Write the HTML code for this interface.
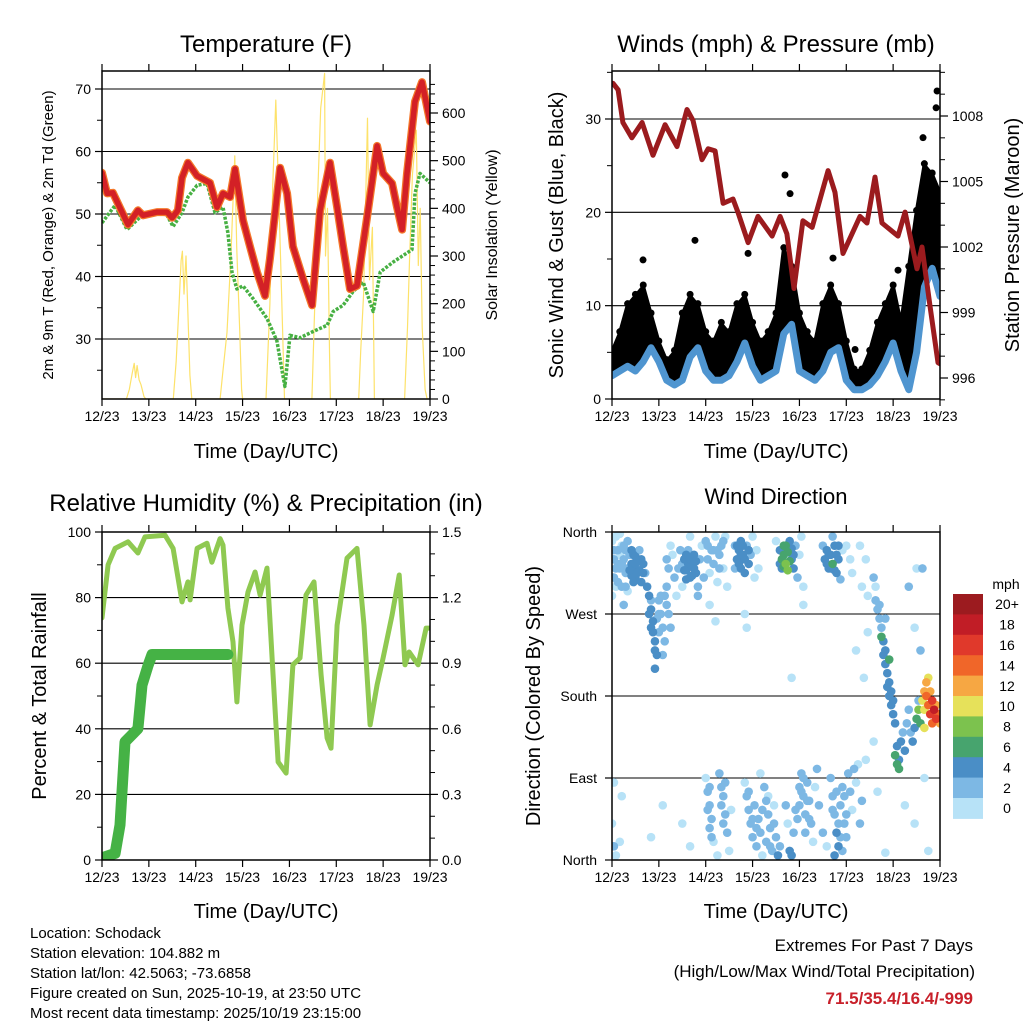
<!DOCTYPE html>
<html><head><meta charset="utf-8">
<style>
html,body{margin:0;padding:0;background:#fff;}
svg{display:block;font-family:"Liberation Sans",Arial,sans-serif;}
</style></head>
<body>
<svg id="root" width="1024" height="1024" viewBox="0 0 1024 1024" xmlns="http://www.w3.org/2000/svg">
<rect width="1024" height="1024" fill="#fff"/>
<text x="266" y="52" font-size="24" text-anchor="middle">Temperature (F)</text>
<text x="776" y="52" font-size="24" text-anchor="middle">Winds (mph) &amp; Pressure (mb)</text>
<text x="266" y="511" font-size="24" text-anchor="middle">Relative Humidity (%) &amp; Precipitation (in)</text>
<text x="776" y="504" font-size="22" text-anchor="middle">Wind Direction</text>
<text x="266" y="458" font-size="20" text-anchor="middle">Time (Day/UTC)</text>
<text x="776" y="458" font-size="20" text-anchor="middle">Time (Day/UTC)</text>
<text x="266" y="918" font-size="20" text-anchor="middle">Time (Day/UTC)</text>
<text x="776" y="918" font-size="20" text-anchor="middle">Time (Day/UTC)</text>
<text transform="translate(53,235) rotate(-90)" font-size="15" text-anchor="middle">2m &amp; 9m T (Red, Orange) &amp; 2m Td (Green)</text>
<text transform="translate(497,235) rotate(-90)" font-size="16" text-anchor="middle">Solar Insolation (Yellow)</text>
<text transform="translate(563,235) rotate(-90)" font-size="20" text-anchor="middle">Sonic Wind &amp; Gust (Blue, Black)</text>
<text transform="translate(1019,235) rotate(-90)" font-size="20" text-anchor="middle">Station Pressure (Maroon)</text>
<text transform="translate(46,696) rotate(-90)" font-size="20" text-anchor="middle">Percent &amp; Total Rainfall</text>
<text transform="translate(540,696) rotate(-90)" font-size="20" text-anchor="middle">Direction (Colored By Speed)</text>
<g font-size="15">
<text x="30" y="938">Location: Schodack</text>
<text x="30" y="958">Station elevation: 104.882 m</text>
<text x="30" y="978">Station lat/lon: 42.5063; -73.6858</text>
<text x="30" y="998">Figure created on Sun, 2025-10-19, at 23:50 UTC</text>
<text x="30" y="1018">Most recent data timestamp: 2025/10/19 23:15:00</text>
</g>
<text x="973" y="951" font-size="17" text-anchor="end">Extremes For Past 7 Days</text>
<text x="975" y="977" font-size="17" text-anchor="end">(High/Low/Max Wind/Total Precipitation)</text>
<text x="973" y="1004" font-size="17" font-weight="bold" fill="#c8202a" text-anchor="end">71.5/35.4/16.4/-999</text>
<g id="layer"></g>
</svg>
<script>
const dayLabels = ["12/23","13/23","14/23","15/23","16/23","17/23","18/23","19/23"];
const tempHours = [0,2.6,5.6,9.2,13.3,18.4,21,28.2,33.3,35.9,38.9,41,44,48.7,55.3,58.9,62,65.6,68.1,72.2,75.8,79.4,83.5,86,91.2,94.8,97.8,103,107.6,111.7,116.8,120.4,123.5,127,130.6,135.8,140.9,144,148.6,151.1,153.7,156.2,160.3,163.9,168];
const tempF = [56.6,53.3,53.4,51,48.3,50.6,49.8,50.3,50.3,49.4,50.6,55.8,58.2,56.1,55,51.1,53.3,52.7,57.2,49,44.8,40.7,36.9,42.8,57.4,53.3,44.8,39.6,35.4,50.6,58.2,51.1,44.8,38,38.5,49.5,60.9,56.5,54.9,51.1,47.5,56.5,68,71.1,64.8];
const dewHours = [0,6.7,12.8,19.5,28.2,33.3,36.4,41,44,48.7,53.8,57.9,62,64.5,66.6,69.1,72.2,77.3,84.5,89.6,92.2,93.7,96.3,101.4,108.1,115.3,118.4,123.5,128.6,133.8,138.9,142.5,149.1,156.3,158.8,160.3,162.9,168];
const dewF = [48.6,51.4,47.5,49.5,50.3,49.8,48,50.2,52.7,54.6,54.9,50.2,51.1,47,40.7,38,38.5,36.5,33.3,29.7,25,22.4,30.6,30.2,31.2,32.2,34.4,35.4,37.6,39.1,34.4,40.7,42.3,43.8,44.3,53.3,56.5,55];
const solarHours = [0,12.5,14,15.5,16.5,17.2,18,19,20,21.5,22.5,36.5,38,39.5,40.5,41.2,42,43,44,45,46,60.5,62,64,66,68,69,70.5,71.5,72,84,86,87.5,89,90.5,92,93.5,107.5,109,110.5,112,114,114.5,115.5,116.5,117,131.5,132.5,134,136,137,138.5,139.5,155,156.5,157.5,159,161,162,163,164,165.5,166.5,168];
const solarW = [0,0,20,55,75,45,70,40,30,5,0,0,80,200,290,310,220,300,180,50,0,0,60,140,300,510,320,150,20,0,0,200,450,627,430,220,0,0,200,430,610,683,300,400,100,0,0,100,220,589,250,360,0,0,150,290,470,564,280,400,150,20,0,0];
const windHours = [0,4,8,12,16,20,24,28,32,36,40,44,48,52,56,60,64,68,72,76,80,84,88,92,96,100,104,108,112,116,120,124,128,132,136,140,144,148,152,156,160,164,168];
const windMean = [2.5,3,3.5,3,4,5.5,4,2,1.5,2,4.5,5.5,3,2,2,2.5,4,6,3.5,2,2.5,3,7,8,3,2.5,2,3,5,5.5,2,1,1,1.5,2.5,4,6,3,1,5,12,14,11];
const windGust = [5,7,10,11,12,9,6,4,5,9,11,10,7,6,8,7,10,11,8,6,7,9,16,14,9,7,6,10,12,10,6,3,3,5,8,10,12,8,14,20,25,24,22];
const gustOutHours = [42.5,88.6,91.2,166.5,166,159.3,69.7,15.9,113.2,124.5,146.5];
const gustOutMph = [17,24,22,33,31.2,28,15.6,14.9,15.1,5.3,13.8];
const pressHours = [0.5,3.1,5.6,10.2,15.4,21,27.2,33.3,38.4,41.5,46.1,49.2,52.8,56.9,62,64.5,69.7,74.8,82,86.1,89.6,93.2,97.8,102.5,110.7,114.2,118.3,127,130.6,134.7,138.3,146.5,150.1,156.2,158.8,162.9,167,169];
const pressMb = [1009.5,1009.2,1007.7,1007,1007.7,1006.2,1007.6,1006.6,1008.3,1007.8,1006,1006.5,1006.4,1004,1004.2,1003.6,1002.2,1003.4,1002.5,1003.4,1002.6,1000.1,1003.2,1002.9,1005.5,1004.5,1001.7,1003.4,1003.1,1005.2,1003.1,1002.5,1003.6,1001,1002,999.3,996.7,996.6];
const rhHours = [0,3.1,6.7,13.3,18.4,22,32.3,36.4,41,44,45.1,48.7,53.8,56.3,60.5,62,64.5,67.1,69.1,71.7,74.8,78.4,81,84.5,87.1,90.2,94.3,97.8,101.4,104.5,108.6,112.2,115.3,117.3,120.4,125.5,130.6,134.2,137.3,140.9,144,148.6,152.2,155.2,157.3,161.9,166,167.6];
const rhPct = [73.8,90,95,97,93.6,98.5,99,95,78.7,84.8,79.3,95,96.6,90.8,98,96,76.8,66.5,48.2,71.6,81.7,87.8,80.8,89,61.6,29.9,26.5,59.5,61.6,80.8,84.8,56.4,37.2,34.1,71.6,92,95,71.6,41.2,53.4,61.6,74.7,86.9,59.5,63.4,59.5,70.7,70.7];
const rainHours = [0,6.7,9.2,11.8,18.4,20,20.5,23.6,25.6,64.5];
const rainIn = [0.01,0.03,0.16,0.54,0.6,0.75,0.8,0.89,0.94,0.94];
const wdObs = [
[0,350,1],[1,330,2],[1,310,2],[2,300,1],[3,340,2],[4,320,2],[5,345,1],[5,300,2],[6,330,2],[7,315,2],[8,350,2],[8,295,1],[9,335,3],[10,325,4],[11,320,4],[11,335,4],[12,310,4],[13,328,4],[14,318,4],[14,340,3],[15,305,4],[16,325,4],[17,315,3],[18,300,4],[2,355,1],[4,358,1],[0,290,1],[6,280,2],[3,325,2],[7,340,2],[12,325,4],[15,330,4],[10,312,4],
[9,318,4],[10,340,4],[12,333,4],[13,315,4],[14,328,4],[16,315,4],[11,305,4],[1,340,2],[2,320,2],[3,305,2],[4,335,1],[5,325,2],[6,345,2],[7,300,2],[8,320,2],
[19,290,4],[20,275,4],[21,262,5],[21,250,4],[22,240,4],[23,225,4],[23,265,3],[24,285,2],[25,270,3],[26,255,3],[27,240,2],[27,290,2],[28,300,2],[29,270,2],[30,255,2],[22,210,4],[26,225,2],[20,285,2],[24,250,3],
[19,270,4],[20,255,4],[22,230,4],[24,270,2],[25,290,2],[28,280,2],
[29,320,2],[31,335,1],[32,310,2],[33,290,1],[30,345,1],[34,320,2],[28,330,2],
[35,340,2],[36,325,2],[37,330,4],[38,318,4],[39,325,4],[40,310,4],[41,322,4],[42,335,4],[43,315,4],[44,300,3],[45,330,2],[46,345,1],[47,310,2],[36,300,1],[40,355,1],[44,290,2],[38,335,4],[41,312,4],[39,340,3],
[37,318,4],[40,330,4],[42,320,4],[43,328,4],[38,308,4],[35,320,2],
[48,350,2],[49,330,2],[50,315,1],[51,340,2],[52,325,2],[53,355,1],[54,305,1],[55,335,2],[56,345,2],[57,320,1],[58,355,1],[59,300,1],[50,280,1],[53,262,1],[54,340,3],
[49,345,2],[52,340,2],[55,320,2],[57,350,2],
[63,345,2],[64,330,4],[65,340,4],[66,320,4],[66,350,4],[67,335,5],[68,315,4],[69,345,3],[70,325,4],[71,335,2],[72,355,1],[73,310,1],[74,340,1],[75,320,1],[68,270,1],[69,255,1],[65,325,4],[67,345,4],
[64,345,4],[66,335,4],[68,330,4],[70,340,4],[63,320,2],
[84,350,1],[86,340,4],[87,330,6],[87,320,5],[88,335,7],[89,345,6],[89,325,8],[90,338,7],[90,318,9],[91,350,5],[92,330,4],[93,320,4],[94,345,3],[95,310,2],[96,335,1],[97,355,1],[98,300,1],[98,280,1],[92,200,1],[88,322,6],[91,328,7],
[86,325,4],[88,345,6],[92,342,4],[93,335,4],
[108,345,2],[109,330,4],[110,340,4],[111,320,4],[112,335,4],[113,325,6],[114,345,4],[115,315,4],[116,330,4],[117,308,3],[113,355,3],[118,340,1],[120,345,1],[111,335,4],[114,318,4],
[110,325,4],[112,320,4],[115,335,4],[116,345,4],
[122,330,1],[123,315,1],[125,230,1],[127,345,1],[128,300,1],[130,330,1],[131,290,1],[129,200,1],[131,250,1],
[134,310,2],[135,285,2],[136,275,2],[137,265,2],[138,255,3],[139,240,4],[140,230,4],[140,215,4],[141,205,4],[142,195,4],[142,180,4],[143,170,4],[144,160,4],[145,150,4],[138,245,6],[142,220,6],[135,300,1],[140,265,2],
[139,225,4],[141,190,4],[143,185,4],[144,175,4],[137,280,2],
[145,115,6],[146,105,7],[146,125,4],[147,110,4],[148,130,4],[149,140,3],[150,120,4],[147,100,6],
[151,150,2],[152,165,2],[153,140,2],[154,130,4],[155,145,4],[156,155,6],[157,175,3],[157,165,8],[158,150,7],[155,255,1],[158,230,2],[152,300,2],[156,320,1],[159,320,2],
[159,175,10],[160,185,12],[160,165,11],[161,180,14],[161,195,12],[162,170,15],[163,160,16],[163,185,13],[164,175,17],[164,150,14],[165,165,18],[166,155,16],[166,170,12],[167,160,14],[168,150,12],[162,200,10],[160,145,10],
[0,40,1],[1,15,2],[2,5,1],[5,70,1],[4,20,1],[1,85,1],
[48,90,1],[49,75,2],[50,60,2],[50,35,2],[51,45,2],[52,20,1],[55,95,2],[56,80,2],[57,70,2],[58,50,2],[59,30,2],[60,10,1],[54,5,1],[61,55,1],
[49,55,2],[50,80,2],[51,25,2],[56,60,2],[57,40,2],[58,85,2],
[68,85,1],[69,70,2],[70,55,2],[71,40,2],[72,25,2],[73,60,2],[74,15,2],[75,45,2],[76,30,2],[77,5,1],[78,80,2],[79,20,2],[80,50,2],[81,35,2],[82,10,2],[83,60,1],[84,25,2],[85,5,4],[86,15,2],[76,95,1],[80,70,1],
[70,75,2],[72,45,2],[74,35,2],[77,55,2],[79,65,2],[81,15,2],[83,40,2],
[89,60,2],[90,40,1],[91,10,4],[92,5,4],[93,30,2],[94,55,2],[95,45,2],[96,80,2],[97,95,2],[98,70,2],[99,50,2],[100,85,2],[101,65,2],[102,40,2],[103,20,1],[104,80,1],[106,60,2],[108,30,2],[110,15,1],[105,100,2],
[96,60,2],[97,75,2],[98,90,2],[99,30,2],[100,65,2],[101,45,2],
[112,90,2],[113,70,2],[114,50,2],[115,30,4],[116,15,4],[117,60,2],[118,80,2],[119,40,2],[120,25,2],[121,95,2],[122,75,2],[123,55,1],[124,100,2],[125,85,1],[126,105,1],[127,40,2],[128,65,2],[114,5,4],[118,10,2],
[113,55,2],[115,75,2],[116,40,2],[117,25,2],[119,70,2],[120,50,2],
[20,25,1],[26,60,1],[36,40,1],[40,15,1],[130,110,1],[134,130,1],[136,75,1],[140,8,1],[150,60,1],[155,40,1],[160,90,1],[162,10,1]
];
const speedBins = ["0","2","4","6","8","10","12","14","16","18","20+"];
const speedColors = ["#b7e2f7","#7db8e4","#4a8ec6","#47a46e","#7cc24e","#e6e15a","#f6a743","#f06629","#e0392b","#c11d26","#9c1b1f"];
const dirLabels = ["North","East","South","West","North"];

const NS = "http://www.w3.org/2000/svg";
const layer = document.getElementById("layer");
function mk(tag, attrs, parent){
  const e = document.createElementNS(NS, tag);
  for (const k in attrs) e.setAttribute(k, attrs[k]);
  (parent||layer).appendChild(e);
  return e;
}
function lin(d0,d1,r0,r1){ return v => r0 + (v-d0)*(r1-r0)/(d1-d0); }
const P = {
  t:{x0:102,x1:430,y0:71,y1:399},
  w:{x0:612,x1:940,y0:71,y1:399},
  h:{x0:102,x1:430,y0:532,y1:860},
  d:{x0:612,x1:940,y0:532,y1:860}
};
function frame(p, name, leftTicks, leftMinor, leftScale, leftFmt, grid, rightTicks, rightMinor, rightScale, rightFmt){
  const g = mk("g",{});
  
  
  const xs = lin(0,168,p.x0,p.x1);
  for (let i=0;i<dayLabels.length;i++){
    const x = xs(i*24);
    mk("line",{x1:x,x2:x,y1:p.y0,y2:p.y0-7,stroke:"#000","stroke-width":1.2},g);
    mk("line",{x1:x,x2:x,y1:p.y1,y2:p.y1+7,stroke:"#000","stroke-width":1.2},g);
    const t = mk("text",{x:x,y:p.y1+22,"font-size":14,"text-anchor":"middle"},g);
    t.textContent = dayLabels[i];
    
    
  }
  grid.forEach(v=>{
    const y = leftScale(v);
    mk("line",{x1:p.x0,x2:p.x1,y1:y,y2:y,stroke:"#000","stroke-width":1.1},g);
  });
  leftMinor.forEach(v=>{
    const y = leftScale(v);
    mk("line",{x1:p.x0,x2:p.x0-5,y1:y,y2:y,stroke:"#000","stroke-width":1},g);
  });
  leftTicks.forEach(v=>{
    const y = leftScale(v);
    mk("line",{x1:p.x0,x2:p.x0-7,y1:y,y2:y,stroke:"#000","stroke-width":1.2},g);
    const t = mk("text",{x:p.x0-11,y:y+5,"font-size":14,"text-anchor":"end"},g);
    t.textContent = leftFmt(v);
    
    
  });
  if (rightScale){
    rightMinor.forEach(v=>{
      const y = rightScale(v);
      mk("line",{x1:p.x1,x2:p.x1+5,y1:y,y2:y,stroke:"#000","stroke-width":1},g);
    });
    rightTicks.forEach(v=>{
      const y = rightScale(v);
      mk("line",{x1:p.x1,x2:p.x1+8,y1:y,y2:y,stroke:"#000","stroke-width":1.2},g);
      const t = mk("text",{x:p.x1+12,y:y+5,"font-size":14,"text-anchor":"start"},g);
      t.textContent = rightFmt(v);
      
      
    });
  }
  return g;
}
function border(p,name){
  const r = mk("rect",{x:p.x0,y:p.y0,width:p.x1-p.x0,height:p.y1-p.y0,fill:"none",stroke:"#000","stroke-width":1.5});
  
  
}
function poly(xsArr, ysArr, xs, ys, attrs, name){
  const pts = xsArr.map((h,i)=>xs(h).toFixed(1)+","+ys(ysArr[i]).toFixed(1)).join(" ");
  const e = mk("polyline", Object.assign({points:pts,fill:"none","stroke-linejoin":"round","stroke-linecap":"round"},attrs));
  
  
  return e;
}
function clip(p,id){
  const c = mk("clipPath",{id:id});
  mk("rect",{x:p.x0,y:p.y0,width:p.x1-p.x0,height:p.y1-p.y0},c);
}

(function(){
  const p = P.t, xs = lin(0,168,p.x0,p.x1);
  const ys = lin(50,60,214,151.5);
  const ysol = lin(0,600,399,113);
  frame(p,"temperature",[30,40,50,60,70],[25,35,45,55,65],ys,v=>v,[30,40,50,60,70],
    [0,100,200,300,400,500,600],[20,40,60,80,120,140,160,180,220,240,260,280,320,340,360,380,420,440,460,480,520,540,560,580,620,640,660],ysol,v=>v);
  clip(p,"ct");
  const g = mk("g",{"clip-path":"url(#ct)"});
  
  
  g.appendChild(poly(solarHours,solarW,xs,ysol,{stroke:"#fde26a","stroke-width":1.2},"solar-insolation-line"));
  g.appendChild(poly(dewHours,dewF,xs,ys,{stroke:"#47b043","stroke-width":3.5,"stroke-dasharray":"3 1.5","stroke-linecap":"butt"},"dewpoint-2m-line"));
  g.appendChild(poly(tempHours,tempF,xs,ys,{stroke:"#f4772a","stroke-width":8},"temp-9m-line"));
  g.appendChild(poly(tempHours,tempF,xs,ys,{stroke:"#d32026","stroke-width":5.5},"temp-2m-line"));
  border(p,"temperature");
})();

(function(){
  const p = P.w, xs = lin(0,168,p.x0,p.x1);
  const ys = lin(0,30,399,119);
  const yp = lin(996,1008,378,116);
  const pMinor=[]; for(let v=995;v<=1010;v++){ if(v%3!==0) pMinor.push(v); }
  frame(p,"winds",[0,10,20,30],[5,15,25,35],ys,v=>v,[10,20,30],
    [996,999,1002,1005,1008],pMinor,yp,v=>v);
  clip(p,"cw");
  const g = mk("g",{"clip-path":"url(#cw)"});
  
  
  const top = windHours.map((h,i)=>xs(h).toFixed(1)+","+ys(windGust[i]).toFixed(1));
  const bot = windHours.map((h,i)=>xs(h).toFixed(1)+","+ys(windMean[i]).toFixed(1)).reverse();
  const band = mk("polygon",{points:top.concat(bot).join(" "),fill:"#000","stroke":"#000","stroke-width":4,"stroke-linejoin":"round"},g);
  
  
  windHours.forEach((h,i)=>{
    const c = mk("circle",{cx:xs(h),cy:ys(windGust[i])-2,r:3.5,fill:"#000"},g);
    
    
  });
  gustOutHours.forEach((h,i)=>{
    const c = mk("circle",{cx:xs(h),cy:ys(gustOutMph[i]),r:3.5,fill:"#000"},g);
    
    
  });
  g.appendChild(poly(windHours,windMean,xs,ys,{stroke:"#4f95d0","stroke-width":7},"mean-wind-line"));
  g.appendChild(poly(pressHours,pressMb,xs,yp,{stroke:"#9b1b1e","stroke-width":5},"pressure-line"));
  border(p,"winds");
})();

(function(){
  const p = P.h, xs = lin(0,168,p.x0,p.x1);
  const ys = lin(0,100,860,532);
  const yr = lin(0,1.5,860,532);
  frame(p,"humidity",[0,20,40,60,80,100],[10,30,50,70,90],ys,v=>v,[20,40,60,80],
    [0,0.3,0.6,0.9,1.2,1.5],[0.1,0.2,0.4,0.5,0.7,0.8,1.0,1.1,1.3,1.4],yr,v=>v.toFixed(1));
  clip(p,"ch");
  const g = mk("g",{"clip-path":"url(#ch)"});
  
  
  g.appendChild(poly(rhHours,rhPct,xs,ys,{stroke:"#8fc951","stroke-width":5},"relative-humidity-line"));
  g.appendChild(poly(rainHours,rainIn,xs,yr,{stroke:"#45b245","stroke-width":11},"precipitation-line"));
  border(p,"humidity");
})();

(function(){
  const p = P.d, xs = lin(0,168,p.x0,p.x1);
  const ys = lin(0,360,860,532);
  const g0 = frame(p,"direction",[],[],ys,v=>v,[90,180,270],null,null,null,null);
  [0,90,180,270,360].forEach((v,i)=>{
    const y = ys(v);
    mk("line",{x1:p.x0,x2:p.x0-7,y1:y,y2:y,stroke:"#000","stroke-width":1.2},g0);
    const t = mk("text",{x:p.x0-15,y:y+5,"font-size":14,"text-anchor":"end"},g0);
    t.textContent = dirLabels[i];
    
    
  });
  clip(p,"cd");
  const g = mk("g",{"clip-path":"url(#cd)"});
  
  
  const sorted = wdObs.slice().sort((a,b)=>a[2]-b[2]);
  sorted.forEach(o=>{
    const bin = Math.min(10, Math.floor(o[2]/2));
    const c = mk("circle",{cx:xs(o[0]),cy:ys(o[1]),r:4.3,fill:speedColors[bin]},g);
    
    
  });
  border(p,"direction");
  const cb = mk("g",{});
  
  
  const bh = 20.4, top = 594;
  const lab = mk("text",{x:1006,y:589,"font-size":14,"text-anchor":"middle"},cb);
  lab.textContent = "mph";
  
  
  for (let i=0;i<speedBins.length;i++){
    const idx = speedBins.length-1-i;
    const y = top + i*bh;
    const r = mk("rect",{x:953,y:y,width:30,height:bh+0.5,fill:speedColors[idx]},cb);
    
    
    const t = mk("text",{x:1007,y:y+bh/2+5,"font-size":14,"text-anchor":"middle"},cb);
    t.textContent = speedBins[idx];
    
    
  }
})();
</script>
</body></html>
